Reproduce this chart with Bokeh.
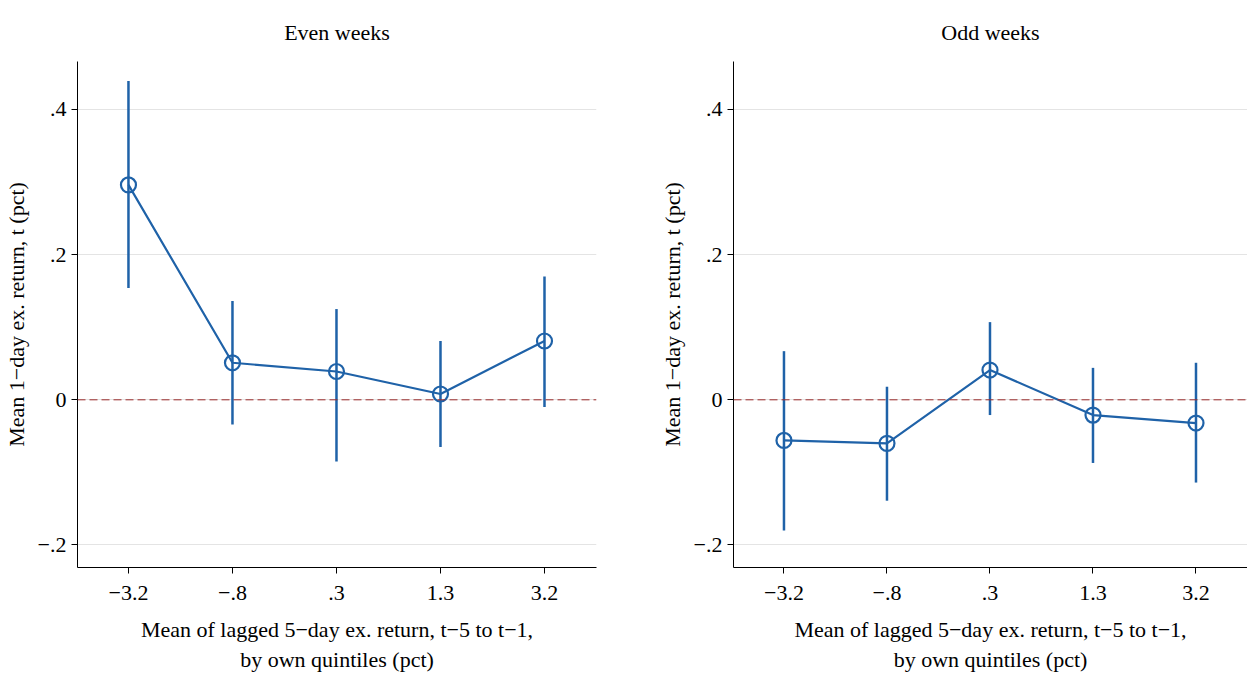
from bokeh.embed import file_html
from bokeh.resources import INLINE
from bokeh.layouts import row
from bokeh.models import FixedTicker, Span, Title
from bokeh.plotting import figure

positions = [1, 2, 3, 4, 5]
x_labels = ["\u22123.2", "\u2212.8", ".3", "1.3", "3.2"]

even_mean = [0.296, 0.051, 0.039, 0.008, 0.081]
even_lo = [0.154, -0.034, -0.085, -0.065, -0.010]
even_hi = [0.439, 0.136, 0.125, 0.081, 0.170]

odd_mean = [-0.056, -0.060, 0.041, -0.021, -0.032]
odd_lo = [-0.180, -0.139, -0.021, -0.087, -0.114]
odd_hi = [0.067, 0.018, 0.107, 0.044, 0.051]

y_ticks = [-0.2, 0, 0.2, 0.4]
y_labels = {-0.2: "\u2212.2", 0: "0", 0.2: ".2", 0.4: ".4"}

BLUE = "#1f62a8"
FONT = "Liberation Serif"
FS = "22px"


def panel(title, mean, lo, hi, border_left, border_right, frame_width):
    p = figure(frame_width=frame_width, frame_height=506, x_range=(0.51, 5.5), y_range=(-0.231, 0.466),
               output_backend="svg", toolbar_location=None,
               min_border_left=border_left, min_border_right=border_right, min_border_top=5,
               min_border_bottom=5)
    p.title = Title(text=title, align="center", text_font=FONT, text_font_size=FS,
                    text_font_style="normal", text_color="black", standoff=34)
    p.outline_line_color = None
    p.xgrid.visible = False
    p.ygrid.ticker = FixedTicker(ticks=y_ticks)
    p.ygrid.grid_line_color = "#e4e4e4"

    p.xaxis.ticker = FixedTicker(ticks=positions)
    p.xaxis.major_label_overrides = {pos: lab for pos, lab in zip(positions, x_labels)}
    p.yaxis.ticker = FixedTicker(ticks=y_ticks)
    p.yaxis.major_label_overrides = y_labels
    p.xaxis.axis_label = "Mean of lagged 5\u2212day ex. return, t\u22125 to t\u22121,\nby own quintiles (pct)"
    p.yaxis.axis_label = "Mean 1\u2212day ex. return, t (pct)"
    for ax in (p.xaxis, p.yaxis):
        ax.minor_tick_line_color = None
        ax.major_tick_out = 6
        ax.major_tick_in = 0
        ax.axis_line_color = "black"
        ax.major_tick_line_color = "black"
        ax.major_label_text_font = FONT
        ax.major_label_text_font_size = FS
        ax.major_label_text_color = "black"
        ax.axis_label_text_font = FONT
        ax.axis_label_text_font_size = FS
        ax.axis_label_text_font_style = "normal"
        ax.axis_label_text_color = "black"
    p.yaxis.major_label_orientation = "horizontal"
    p.xaxis.major_label_standoff = 12
    p.xaxis.axis_label_standoff = 14
    p.yaxis.axis_label_standoff = 6

    p.add_layout(Span(location=0, dimension="width", line_color="#9a2b2b", line_dash="8 4", line_width=1))
    p.segment(positions, lo, positions, hi, line_color=BLUE, line_width=2.5)
    p.line(positions, mean, line_color=BLUE, line_width=2.2)
    p.scatter(positions, mean, size=15, fill_color=None, line_color=BLUE, line_width=2.2)
    return p


left = panel("Even weeks", even_mean, even_lo, even_hi, 68, 20, 519)
right = panel("Odd weeks", odd_mean, odd_lo, odd_hi, 117, 0, 514)

layout = row(left, right)
open("out.html", "w").write(file_html(layout, INLINE))
